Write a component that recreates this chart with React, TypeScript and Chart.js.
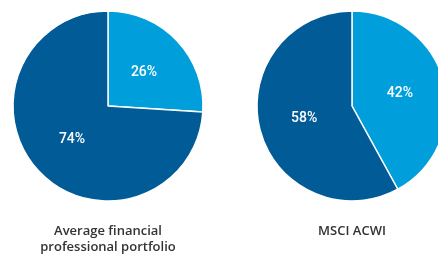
import React, { useEffect, useRef } from "react";
import { Chart, registerables } from "chart.js";

Chart.register(...registerables);

const categories = ["Non-US equities", "US equities"];
const advisorValues = [26, 74];
const acwiValues = [42, 58];
const advisorCaption = ["Average financial", "professional portfolio"];
const acwiCaption = ["MSCI ACWI"];
const sliceColors = ["#009fdb", "#005b96"];

const pctLabelPlugin = {
  id: "pctLabels",
  afterDatasetsDraw(chart: any) {
    const ctx = chart.ctx;
    const meta = chart.getDatasetMeta(0);
    const data = chart.data.datasets[0].data;
    ctx.save();
    ctx.font = "500 14px Roboto";
    ctx.fillStyle = "#ffffff";
    ctx.textAlign = "center";
    ctx.textBaseline = "middle";
    meta.data.forEach((arc: any, i: number) => {
      const p = arc.getProps(["x", "y", "startAngle", "endAngle", "outerRadius"], true);
      const mid = (p.startAngle + p.endAngle) / 2;
      const r = p.outerRadius * 0.52;
      ctx.fillText(`${data[i]}%`, p.x + Math.cos(mid) * r, p.y + Math.sin(mid) * r);
    });
    ctx.restore();
  },
};

const captionPlugin = {
  id: "caption",
  afterDraw(chart: any) {
    const lines: string[] = chart.options.plugins.caption.lines;
    const ctx = chart.ctx;
    const area = chart.chartArea;
    const cx = (area.left + area.right) / 2;
    ctx.save();
    ctx.font = "600 13px 'Open Sans'";
    ctx.fillStyle = "#333333";
    ctx.textAlign = "center";
    ctx.textBaseline = "middle";
    lines.forEach((line, i) => {
      ctx.fillText(line, cx, 231 + i * 16);
    });
    ctx.restore();
  },
};

function PieCanvas({ values, caption, left }: { values: number[]; caption: string[]; left: number }) {
  const ref = useRef<HTMLCanvasElement | null>(null);
  useEffect(() => {
    if (!ref.current) return;
    const chart = new Chart(ref.current, {
      type: "pie",
      data: {
        labels: categories,
        datasets: [
          {
            data: values,
            backgroundColor: sliceColors,
            borderColor: "#ffffff",
            borderWidth: 1.5,
          },
        ],
      },
      options: {
        responsive: false,
        animation: false,
        devicePixelRatio: 1,
        radius: 95,
        layout: { padding: { left: 13, right: 13, top: 11, bottom: 53 } },
        plugins: {
          legend: { display: false },
          tooltip: { enabled: false },
          caption: { lines: caption },
        } as any,
      },
      plugins: [pctLabelPlugin, captionPlugin],
    });
    return () => chart.destroy();
  }, []);
  return (
    <canvas
      ref={ref}
      width={216}
      height={254}
      style={{ position: "absolute", left, top: 0, width: 216, height: 254 }}
    />
  );
}

export default function App() {
  return (
    <div
      style={{
        position: "absolute",
        left: 0,
        top: 0,
        width: 438,
        height: 254,
        overflow: "hidden",
        background: "#ffffff",
      }}
    >
      <PieCanvas values={advisorValues} caption={advisorCaption} left={0} />
      <PieCanvas values={acwiValues} caption={acwiCaption} left={244} />
    </div>
  );
}
